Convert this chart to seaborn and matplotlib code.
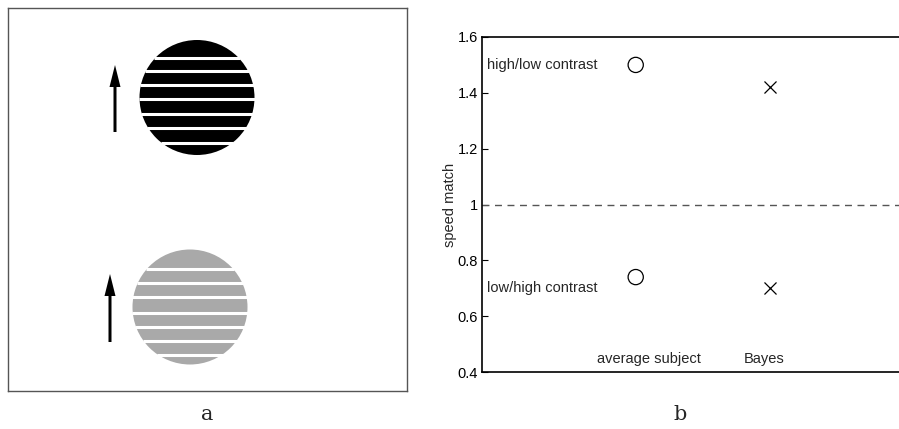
import numpy as np
import pandas as pd
import matplotlib
matplotlib.use("Agg")
import matplotlib.pyplot as plt
import seaborn as sns
from matplotlib.patches import Circle, FancyArrow

# ---- data (panel b) ----
models = ["average subject", "average subject", "Bayes", "Bayes"]
conditions = ["high/low contrast", "low/high contrast", "high/low contrast", "low/high contrast"]
speed_match = [1.50, 0.74, 1.42, 0.70]
model_pos = {"average subject": 1, "Bayes": 2}
y_ticks = [0.4, 0.6, 0.8, 1.0, 1.2, 1.4, 1.6]
y_tick_labels = ["0.4", "0.6", "0.8", "1", "1.2", "1.4", "1.6"]
reference_level = 1.0

# ---- illustration (panel a) ----
stim_colors = ["#000000", "#a9a9a9"]
stim_centers = [(197, 97.5), (190, 307)]
stim_radius = 57.5
stim_stripes = [[58, 71, 85, 99, 114, 128, 143], [269, 283, 297, 313, 327, 341, 355]]
arrow_x = [115, 110]
arrow_base = [132, 342]
arrow_tip = [65, 274]

sns.set_theme(style="white")
plt.rcParams["font.family"] = ["Liberation Sans", "DejaVu Sans"]

W, H = 899, 429
fig = plt.figure(figsize=(W / 100, H / 100), dpi=100)

# ---- panel a ----
axa = fig.add_axes([8 / W, 1 - 391 / H, (407 - 8) / W, (391 - 8) / H])
axa.set_xlim(8, 407)
axa.set_ylim(391, 8)
axa.set_xticks([]); axa.set_yticks([])
for s in axa.spines.values():
    s.set_color("#555555"); s.set_linewidth(1.0)
for col, (cx, cy), stripes, ax_x, ab, at in zip(stim_colors, stim_centers, stim_stripes,
                                                 arrow_x, arrow_base, arrow_tip):
    axa.add_patch(Circle((cx, cy), stim_radius, color=col, lw=0))
    for sy in stripes:
        dy = sy - cy
        if abs(dy) < stim_radius:
            hw = np.sqrt(stim_radius**2 - dy**2)
            axa.plot([cx - hw - 1, cx + hw + 1], [sy, sy], color="white", lw=2.2,
                     solid_capstyle="butt")
    axa.add_patch(FancyArrow(ax_x, ab, 0, at - ab, width=3, head_width=11,
                             head_length=22, length_includes_head=True,
                             color="black", lw=0))

# ---- panel b ----
df = pd.DataFrame({"model": models, "condition": conditions, "speed": speed_match})
df["pos"] = df["model"].map(model_pos)

axb = fig.add_axes([482 / W, 1 - 372 / H, (W - 482) / W + 0.01, (372 - 37) / H])
sub = df[df["model"] == "average subject"]
sns.scatterplot(data=sub, x="pos", y="speed", ax=axb, marker="o", s=120,
                facecolor="none", edgecolor="black", linewidth=0.9, legend=False)
sub = df[df["model"] == "Bayes"]
sns.scatterplot(data=sub, x="pos", y="speed", ax=axb, marker="x", s=75,
                color="black", linewidth=0.9, legend=False)
axb.axhline(reference_level, color="#555555", lw=1.0, ls=(0, (5, 4)))

axb.set_xlim(-0.146, 2.96 + 0.07)
axb.set_ylim(0.4, 1.6)
axb.set_xticks([])
axb.set_yticks(y_ticks)
axb.set_yticklabels(y_tick_labels)
axb.tick_params(axis="y", direction="in", length=4, width=0.8, left=True,
                labelsize=10.5, pad=3, colors="black")
axb.set_xlabel("")
axb.set_ylabel("speed match", fontsize=10.5, labelpad=0)
for side in ["top", "bottom", "left"]:
    axb.spines[side].set_color("black"); axb.spines[side].set_linewidth(1.2)
axb.spines["right"].set_visible(False)

axb.text(-0.109, 1.50, conditions[0], fontsize=10.5, va="center", ha="left")
axb.text(-0.109, 0.70, conditions[1], fontsize=10.5, va="center", ha="left")
axb.text(1.098, 0.447, "average subject", fontsize=10.5, va="center", ha="center")
axb.text(1.955, 0.447, "Bayes", fontsize=10.5, va="center", ha="center")

fig.text(207 / W, 1 - 415 / H, "a", fontsize=15, family=["DejaVu Serif"], ha="center", va="center")
fig.text(680 / W, 1 - 415 / H, "b", fontsize=15, family=["DejaVu Serif"], ha="center", va="center")

fig.savefig("out.png", dpi=100)
